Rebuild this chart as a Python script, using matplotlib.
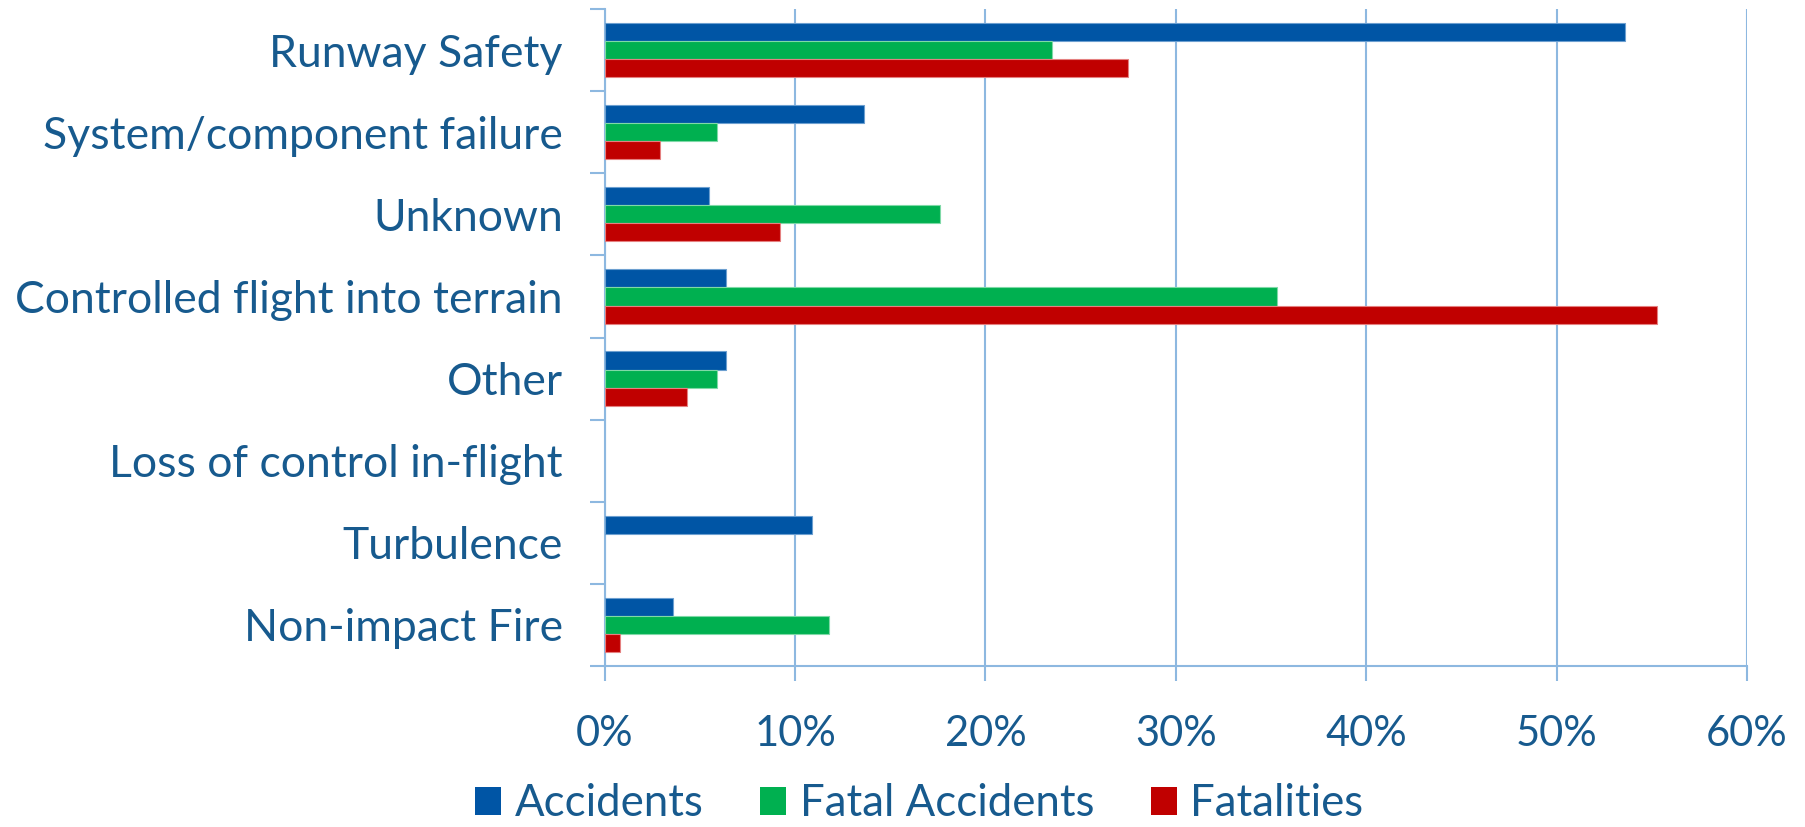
# plot.py
# Accident categories: share of accidents, fatal accidents and fatalities.

import numpy as np
import matplotlib
matplotlib.use('Agg')
import matplotlib.pyplot as plt
from matplotlib.patches import Patch
from matplotlib.ticker import FuncFormatter, FixedLocator

plt.rcParams['font.family'] = ['Lato', 'DejaVu Sans']

categories = [
    'Runway Safety',
    'System/component failure',
    'Unknown',
    'Controlled flight into terrain',
    'Other',
    'Loss of control in-flight',
    'Turbulence',
    'Non-impact Fire',
]
accidents = [53.6, 13.6, 5.5, 6.4, 6.4, 0.0, 10.9, 3.6]
fatal_accidents = [23.5, 5.9, 17.6, 35.3, 5.9, 0.0, 0.0, 11.8]
fatalities = [27.5, 2.9, 9.2, 55.3, 4.3, 0.0, 0.0, 0.8]

series_names = ['Accidents', 'Fatal Accidents', 'Fatalities']
colors = ['#0055A5', '#00B050', '#C00000']
edges = ['#6C9FD0', '#7FD9A7', '#E58080']

text_color = '#175A8E'
grid_color = '#8DB8E0'

fig = plt.figure(figsize=(18.06, 8.27), dpi=100)
ax = fig.add_axes([0.3348, 0.1947, 0.6325, 0.7943])

y = np.arange(len(categories))
h = 0.22
for i, vals in enumerate([accidents, fatal_accidents, fatalities]):
    vals = np.array(vals) / 100.0
    # zero-length bars would still show their outline, so give them none
    lw = np.where(vals > 0, 0.8, 0.0)
    ax.barh(y + (i - 1) * h, vals, height=h,
            color=colors[i], edgecolor=edges[i], linewidth=lw, zorder=3)

ax.set_xlim(0, 0.6)
ax.set_ylim(len(categories) - 0.5, -0.5)
ax.set_xticks(np.arange(0, 0.61, 0.1))
ax.xaxis.set_major_formatter(FuncFormatter(lambda v, p: f'{v * 100:.0f}%'))
ax.set_yticks(y)
ax.set_yticklabels(categories)
ax.yaxis.set_minor_locator(FixedLocator(np.arange(-0.5, len(categories), 1.0)))

ax.grid(axis='x', color=grid_color, linewidth=1.5, zorder=0)
for s in ['top', 'right']:
    ax.spines[s].set_visible(False)
for s in ['left', 'bottom']:
    ax.spines[s].set_color(grid_color)
    ax.spines[s].set_linewidth(1.5)

ax.tick_params(axis='y', which='major', length=0, pad=30,
               labelsize=32, labelcolor=text_color)
ax.tick_params(axis='y', which='minor', length=11, width=1.5, color=grid_color)
ax.tick_params(axis='x', which='major', length=11, width=1.5, color=grid_color,
               pad=24, labelsize=30, labelcolor=text_color)

handles = [Patch(facecolor=c, edgecolor='none') for c in colors]
fig.legend(handles, series_names, loc='center', bbox_to_anchor=(0.509, 0.028),
           ncol=3, frameon=False, fontsize=31.5, labelcolor=text_color,
           handlelength=0.6, handleheight=0.6, handletextpad=0.3,
           columnspacing=1.3, borderpad=0)

fig.savefig('out.png', dpi=100)
